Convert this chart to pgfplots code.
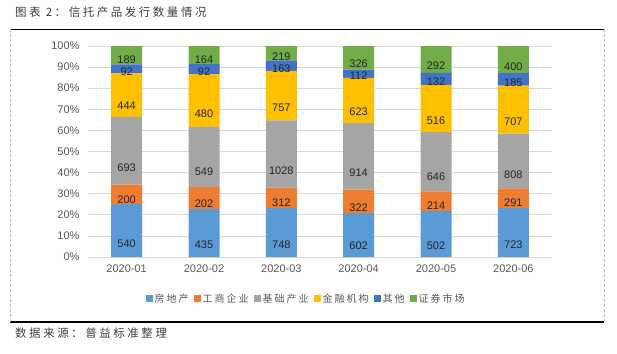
\documentclass[border=0pt]{standalone}
\usepackage{pgfplots}
\pgfplotsset{compat=1.18}
\usepackage{pgfplotstable}
\usepackage{fontspec}
\setmainfont{Liberation Sans}
\newfontfamily\cjk[LetterSpace=22]{Noto Sans CJK SC}
\newfontfamily\cjkl[LetterSpace=20]{Noto Sans CJK SC}
\definecolor{c1}{HTML}{5B9BD5}
\definecolor{c2}{HTML}{ED7D31}
\definecolor{c3}{HTML}{A5A5A5}
\definecolor{c4}{HTML}{FFC000}
\definecolor{c5}{HTML}{4472C4}
\definecolor{c6}{HTML}{70AD47}
\definecolor{tick}{HTML}{595959}
\definecolor{ttl}{HTML}{404040}
\pgfplotstableread{
x a b c d e f
0 540 200 693 444 92 189
1 435 202 549 480 92 164
2 748 312 1028 757 163 219
3 602 322 914 623 112 326
4 502 214 646 516 132 292
5 723 291 808 707 185 400
}\data
\pgfplotstablecreatecol[expr={\thisrow{a}+\thisrow{b}+\thisrow{c}+\thisrow{d}+\thisrow{e}+\thisrow{f}}]{t}{\data}
\begin{document}
\begin{tikzpicture}[x=1pt,y=1pt]
\path[use as bounding box] (0,0) rectangle (617,353);
\draw[line width=1.4pt] (10,323.5) -- (604,323.5);
\draw[line width=1.4pt] (10,31) -- (604,31);
\draw[densely dashed, color=black!25, line width=0.7pt] (10,31) -- (10,323.5);
\draw[densely dashed, color=black!25, line width=0.7pt] (604,31) -- (604,323.5);
\node[anchor=west, text=ttl, inner sep=0pt, font=\fontsize{11.5}{13}\cjk] at (15,341) {图表 2：信托产品发行数量情况};
\node[anchor=west, text=ttl, inner sep=0pt, font=\fontsize{11.5}{13}\cjk] at (15,20) {数据来源：普益标准整理};
\begin{axis}[
  at={(88pt,96pt)}, anchor=south west,
  scale only axis, width=464pt, height=211pt,
  /pgf/number format/assume math mode=true,
  ybar stacked, bar width=31pt,
  xmin=-0.5, xmax=5.5, ymin=0, ymax=100.002,
  xtick={0,...,5},
  xticklabels={2020-01,2020-02,2020-03,2020-04,2020-05,2020-06},
  ytick={0,10,...,100},
  yticklabel={\pgfmathprintnumber{\tick}\%},
  ymajorgrids, grid style={color=black!15, line width=0.8pt},
  axis line style={draw=none},
  major tick length=0pt,
  tick label style={font=\fontsize{11}{13}\selectfont, text=tick},
  xticklabel style={yshift=-4pt},
  yticklabel style={xshift=-5pt},
  point meta=explicit,
  nodes near coords={\pgfmathprintnumber[1000 sep={}]{\pgfplotspointmeta}},
  every node near coord/.append style={anchor=center, font=\fontsize{11}{13}\selectfont, text=black!85, yshift=-\hh*0.5275pt},
  legend style={at={(0.47,-0.199)}, anchor=center, draw=none, legend columns=6,
    font=\fontsize{10}{12}\cjkl, text=tick,
    /tikz/every even column/.append style={column sep=3pt}},
  legend image code/.code={\fill[#1] (0pt,-3.5pt) rectangle (7pt,3.5pt);},
]
\addplot[fill=c1, draw=none, visualization depends on={\thisrow{a}/\thisrow{t}*100 \as \hh}] table[x=x, y expr=\thisrow{a}/\thisrow{t}*100, meta=a]{\data};
\addlegendentry{房地产}
\addplot[fill=c2, draw=none, visualization depends on={\thisrow{b}/\thisrow{t}*100 \as \hh}] table[x=x, y expr=\thisrow{b}/\thisrow{t}*100, meta=b]{\data};
\addlegendentry{工商企业}
\addplot[fill=c3, draw=none, visualization depends on={\thisrow{c}/\thisrow{t}*100 \as \hh}] table[x=x, y expr=\thisrow{c}/\thisrow{t}*100, meta=c]{\data};
\addlegendentry{基础产业}
\addplot[fill=c4, draw=none, visualization depends on={\thisrow{d}/\thisrow{t}*100 \as \hh}] table[x=x, y expr=\thisrow{d}/\thisrow{t}*100, meta=d]{\data};
\addlegendentry{金融机构}
\addplot[fill=c5, draw=none, visualization depends on={\thisrow{e}/\thisrow{t}*100 \as \hh}] table[x=x, y expr=\thisrow{e}/\thisrow{t}*100, meta=e]{\data};
\addlegendentry{其他}
\addplot[fill=c6, draw=none, visualization depends on={\thisrow{f}/\thisrow{t}*100 \as \hh}] table[x=x, y expr=\thisrow{f}/\thisrow{t}*100, meta=f]{\data};
\addlegendentry{证券市场}
\end{axis}
\end{tikzpicture}
\end{document}
